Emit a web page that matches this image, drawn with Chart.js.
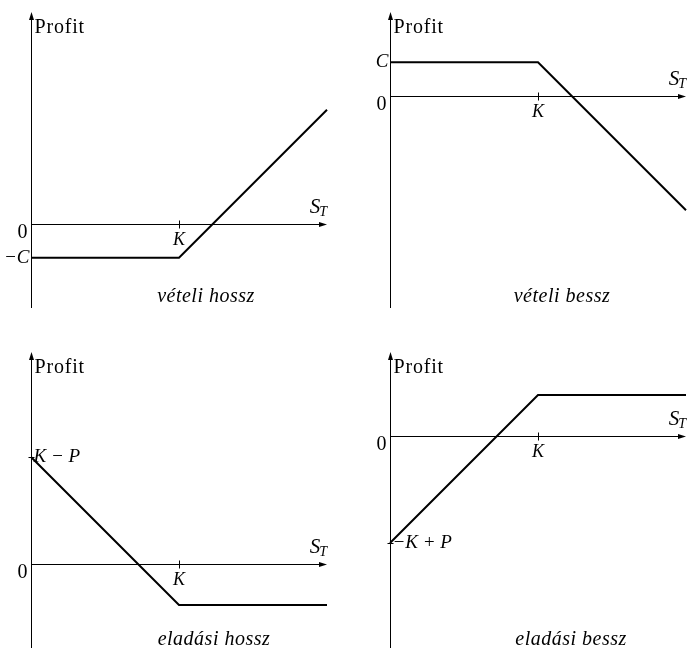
<!DOCTYPE html>
<html>
<head>
<meta charset="utf-8">
<script src="https://cdn.jsdelivr.net/npm/chart.js@4.4.1/dist/chart.umd.min.js"></script>
<style>
  html, body { margin: 0; padding: 0; background: #fff; }
  #wrap { position: relative; width: 689px; height: 651px; overflow: hidden; }
  #wrap canvas { position: absolute; }
</style>
</head>
<body>
<div id="wrap">
  <canvas id="longCall" width="344" height="325" style="left:0;top:0"></canvas>
  <canvas id="shortCall" width="345" height="325" style="left:344px;top:0"></canvas>
  <canvas id="longPut" width="344" height="326" style="left:0;top:325px"></canvas>
  <canvas id="shortPut" width="345" height="326" style="left:344px;top:325px"></canvas>
</div>
<script>
// S_T breakpoints (start, strike, end) and the strike itself
const stValues = [0, 100, 200];
const strikeK = 100;

// profit at each S_T breakpoint
const longCallProfit = [-23, -23, 77];
const shortCallProfit = [23, 23, -77];
const longPutProfit = [72, -28, -28];
const shortPutProfit = [-72, 28, 28];

// marked values on the profit axis
const longCallTicks = [0, -23];
const longCallTickLabels = ["0", "−C"];
const shortCallTicks = [0, 23];
const shortCallTickLabels = ["0", "C"];
const longPutTicks = [0, 72];
const longPutTickLabels = ["0", "K − P"];
const shortPutTicks = [0, -72];
const shortPutTickLabels = ["0", "−K + P"];

const serif = '"Liberation Serif", "Times New Roman", serif';

const panels = [
  { id: "longCall", profit: longCallProfit, ticks: longCallTicks, tickLabels: longCallTickLabels,
    yMin: -57, yMax: 143, caption: "vételi hossz", labelSide: "left",
    padding: { left: 31, right: 17, top: 12, bottom: 17 }, captionX: 175, captionY: 302 },
  { id: "shortCall", profit: shortCallProfit, ticks: shortCallTicks, tickLabels: shortCallTickLabels,
    yMin: -143, yMax: 57, caption: "vételi bessz", labelSide: "left",
    padding: { left: 46, right: 3, top: 12, bottom: 17 }, captionX: 172, captionY: 302 },
  { id: "longPut", profit: longPutProfit, ticks: longPutTicks, tickLabels: longPutTickLabels,
    yMin: -57, yMax: 143, caption: "eladási hossz", labelSide: "right",
    padding: { left: 31, right: 17, top: 27, bottom: 3 }, captionX: 183, captionY: 320 },
  { id: "shortPut", profit: shortPutProfit, ticks: shortPutTicks, tickLabels: shortPutTickLabels,
    yMin: -143, yMax: 57, caption: "eladási bessz", labelSide: "right",
    padding: { left: 46, right: 3, top: 27, bottom: 3 }, captionX: 181, captionY: 320 },
];

// axes with arrow heads, the K mark and all the text labels
const payoffAxes = {
  id: "payoffAxes",
  beforeDatasetsDraw(chart, args, opts) {
    const { ctx, chartArea: area, scales: { x, y } } = chart;
    const ax = Math.round(x.getPixelForValue(0)) + 0.5;
    const ay = Math.round(y.getPixelForValue(0)) + 0.5;
    const right = area.right;
    const top = area.top;

    ctx.save();
    ctx.strokeStyle = "#000";
    ctx.fillStyle = "#000";
    ctx.lineWidth = 1;

    ctx.beginPath();
    ctx.moveTo(ax, area.bottom);
    ctx.lineTo(ax, top + 4);
    ctx.moveTo(ax, ay);
    ctx.lineTo(right - 4, ay);
    ctx.stroke();

    // arrow heads
    ctx.beginPath();
    ctx.moveTo(ax, top);
    ctx.lineTo(ax - 2.5, top + 8);
    ctx.lineTo(ax + 2.5, top + 8);
    ctx.closePath();
    ctx.fill();
    ctx.beginPath();
    ctx.moveTo(right, ay);
    ctx.lineTo(right - 8, ay - 2.5);
    ctx.lineTo(right - 8, ay + 2.5);
    ctx.closePath();
    ctx.fill();

    // strike tick
    const kx = Math.round(x.getPixelForValue(strikeK)) + 0.5;
    ctx.beginPath();
    ctx.moveTo(kx, ay - 4);
    ctx.lineTo(kx, ay + 4);
    ctx.stroke();
    ctx.restore();
  },
  afterDraw(chart, args, opts) {
    const { ctx, chartArea: area, scales: { x, y } } = chart;
    const ax = Math.round(x.getPixelForValue(0)) + 0.5;
    const ay = Math.round(y.getPixelForValue(0)) + 0.5;

    ctx.save();
    ctx.fillStyle = "#000";
    ctx.strokeStyle = "#000";
    ctx.lineWidth = 1;
    ctx.textBaseline = "alphabetic";

    // "Profit"
    ctx.font = "20px " + serif;
    ctx.letterSpacing = "0.8px";
    ctx.textAlign = "left";
    ctx.fillText("Profit", ax + 3, area.top + 21);
    ctx.letterSpacing = "0px";

    // S_T at the end of the horizontal axis
    ctx.font = "italic 14px " + serif;
    const tW = ctx.measureText("T").width;
    ctx.textAlign = "right";
    ctx.fillText("T", area.right, ay - 9);
    ctx.font = "italic 21px " + serif;
    ctx.fillText("S", area.right - tW + 1, ay - 12);

    // K below the strike tick
    ctx.font = "italic 18px " + serif;
    ctx.textAlign = "center";
    ctx.fillText("K", x.getPixelForValue(strikeK), ay + 20);

    // profit axis labels
    opts.ticks.forEach((v, i) => {
      const label = opts.tickLabels[i];
      if (v === 0) {
        ctx.font = "20px " + serif;
        ctx.textAlign = "right";
        ctx.fillText(label, ax - 4, ay + 13);
        return;
      }
      const py = y.getPixelForValue(v);
      ctx.font = "italic 19px " + serif;
      ctx.textBaseline = "middle";
      if (opts.labelSide === "left") {
        ctx.textAlign = "right";
        ctx.fillText(label, ax - 2, py);
      } else {
        ctx.beginPath();
        ctx.moveTo(ax - 3, Math.round(py) + 0.5);
        ctx.lineTo(ax + 3, Math.round(py) + 0.5);
        ctx.stroke();
        ctx.textAlign = "left";
        ctx.fillText(label, ax + 2, py);
      }
      ctx.textBaseline = "alphabetic";
    });

    // caption under each diagram
    ctx.font = "italic 20px " + serif;
    ctx.letterSpacing = "0.5px";
    ctx.textAlign = "center";
    ctx.fillText(opts.caption, area.left + opts.captionX, opts.captionY);
    ctx.restore();
  },
};

panels.forEach((p) => {
  const ctx = document.getElementById(p.id).getContext("2d");
  new Chart(ctx, {
    type: "line",
    data: {
      datasets: [
        {
          data: stValues.map((s, i) => ({ x: s, y: p.profit[i] })),
          borderColor: "#000",
          borderWidth: 2,
          pointRadius: 0,
          tension: 0,
          clip: false,
        },
      ],
    },
    options: {
      responsive: false,
      animation: false,
      layout: { padding: p.padding },
      scales: {
        x: { type: "linear", min: 0, max: 200, display: false },
        y: { type: "linear", min: p.yMin, max: p.yMax, display: false },
      },
      plugins: {
        legend: { display: false },
        tooltip: { enabled: false },
        payoffAxes: {
          ticks: p.ticks,
          tickLabels: p.tickLabels,
          labelSide: p.labelSide,
          caption: p.caption,
          captionX: p.captionX,
          captionY: p.captionY,
        },
      },
    },
    plugins: [payoffAxes],
  });
});
</script>
</body>
</html>
